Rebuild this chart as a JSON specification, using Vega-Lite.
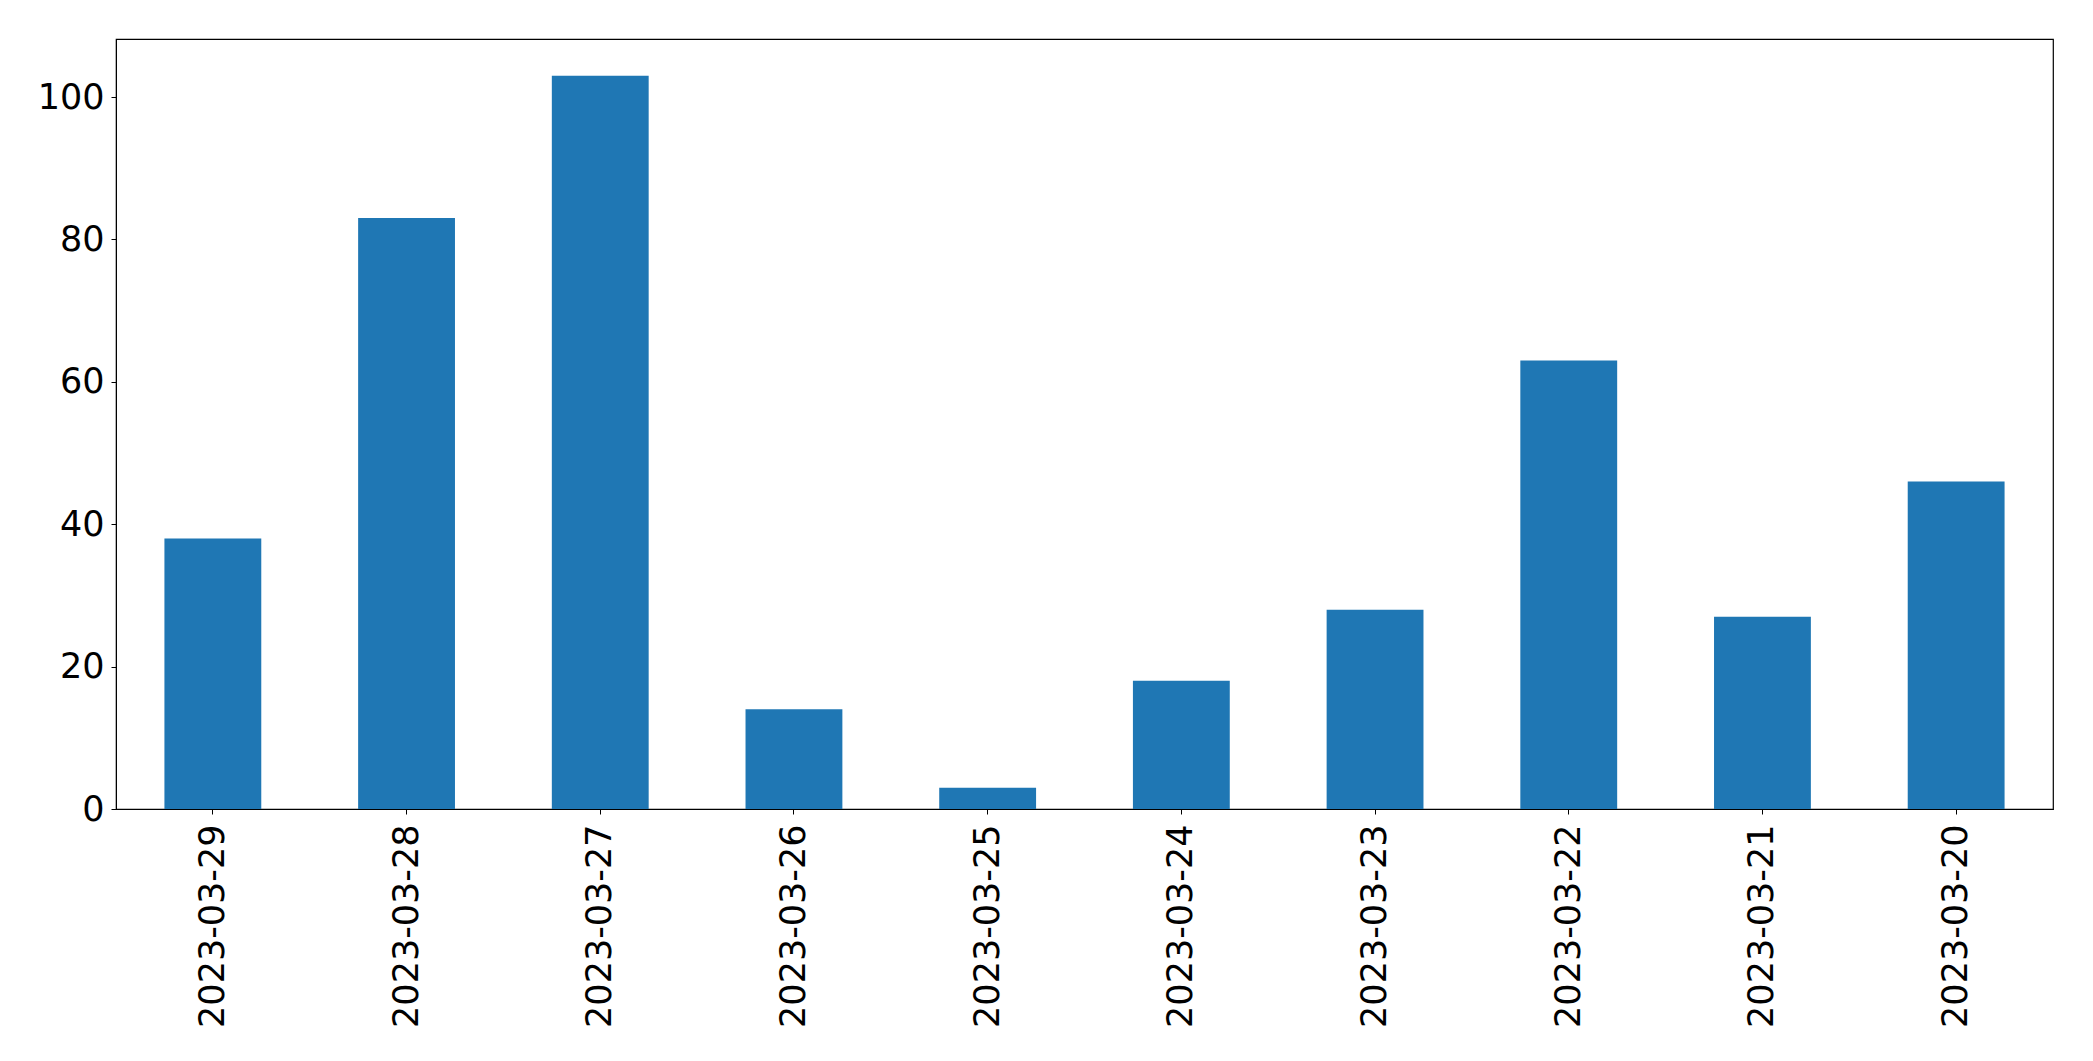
{
  "$schema": "https://vega.github.io/schema/vega-lite/v6.json",
  "autosize": {"type": "none"},
  "padding": {"left": 116, "top": 39, "right": 40, "bottom": 252},
  "width": 1937,
  "height": 770,
  "background": "white",
  "data": {
    "values": [
      {"date": "2023-03-29", "count": 38},
      {"date": "2023-03-28", "count": 83},
      {"date": "2023-03-27", "count": 103},
      {"date": "2023-03-26", "count": 14},
      {"date": "2023-03-25", "count": 3},
      {"date": "2023-03-24", "count": 18},
      {"date": "2023-03-23", "count": 28},
      {"date": "2023-03-22", "count": 63},
      {"date": "2023-03-21", "count": 27},
      {"date": "2023-03-20", "count": 46}
    ]
  },
  "mark": {"type": "bar", "color": "#1f77b4"},
  "encoding": {
    "x": {
      "field": "date",
      "type": "nominal",
      "sort": null,
      "scale": {"paddingInner": 0.5, "paddingOuter": 0.25},
      "axis": {
        "title": null,
        "labelAngle": -90,
        "labelFont": "DejaVu Sans",
        "labelFontSize": 35,
        "labelLimit": 0,
        "labelColor": "black",
        "labelPadding": 10,
        "tickSize": 5,
        "tickColor": "black",
        "domainColor": "black",
        "grid": false
      }
    },
    "y": {
      "field": "count",
      "type": "quantitative",
      "scale": {"domain": [0, 108.15], "nice": false, "zero": true},
      "axis": {
        "title": null,
        "values": [0, 20, 40, 60, 80, 100],
        "labelFont": "DejaVu Sans",
        "labelFontSize": 35,
        "labelColor": "black",
        "labelPadding": 7,
        "tickSize": 5,
        "tickColor": "black",
        "domainColor": "black",
        "grid": false
      }
    }
  },
  "config": {
    "view": {"stroke": "black", "strokeWidth": 1.2}
  }
}
